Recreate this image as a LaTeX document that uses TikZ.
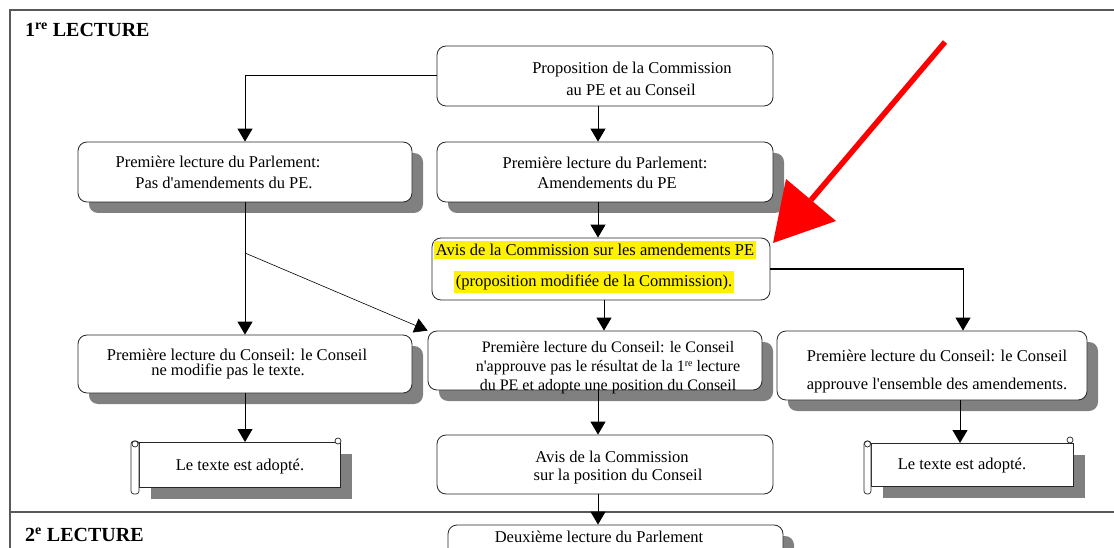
\documentclass[tikz,border=0pt]{standalone}
\usepackage{fontspec}
\setmainfont{Liberation Serif}
\usetikzlibrary{shadows,arrows.meta}
\begin{document}
\begin{tikzpicture}[x=1pt,y=-1pt,
  box/.style={draw=black!85, line width=0.8pt, rounded corners=9pt, fill=white, inner sep=0pt},
  shbox/.style={box, drop shadow={shadow xshift=11pt, shadow yshift=-11pt, fill=black!50, opacity=1}},
  scrollbody/.style={draw=black!85, line width=0.8pt, fill=white, inner sep=0pt,
     drop shadow={shadow xshift=12pt, shadow yshift=-12pt, fill=black!50, opacity=1}},
  roll/.style={draw=black!85, line width=0.7pt, fill=white, rounded corners=3pt},
  txt/.style={font=\fontsize{16.5}{19}\selectfont, inner sep=0pt, anchor=center},
  stxt/.style={font=\fontsize{16}{18}\selectfont, inner sep=0pt, anchor=base},
  hl/.style={txt, fill=yellow, inner xsep=1.5pt, inner ysep=3pt},
  title/.style={font=\fontsize{20}{23}\selectfont\bfseries, inner sep=0pt, anchor=west},
  arr/.style={-{Triangle[width=15pt,length=13pt]}, line width=1pt},
  thin/.style={-{Triangle[width=15pt,length=13pt]}, line width=0.6pt},
  frame/.style={draw=black!65, line width=1.6pt},
]
\useasboundingbox (0,0) rectangle (1114,548);
\fill[white] (0,0) rectangle (1114,548);

% frame
\draw[frame] (1114,10) -- (10,10) -- (10,548);
\draw[frame] (10,512) -- (1114,512);

\node[title] (t1) at (25,30) {1\textsuperscript{re} LECTURE};
\node[title] (t2) at (25,535) {2\textsuperscript{e} LECTURE};

% boxes
\node[box,   minimum width=336pt, minimum height=60pt] (p1) at (605,76) {};
\node[shbox, minimum width=334pt, minimum height=60pt] (b2) at (245,172) {};
\node[shbox, minimum width=336pt, minimum height=60pt] (b3) at (605,172) {};
\node[box,   minimum width=338pt, minimum height=62pt] (av) at (601,269) {};
\node[shbox, minimum width=334pt, minimum height=58pt] (c5) at (245,364) {};
\node[shbox, minimum width=334pt, minimum height=59pt] (c6) at (595,360.5) {};
\node[shbox, minimum width=310pt, minimum height=69pt] (c7) at (932,365.5) {};
\node[box,   minimum width=336pt, minimum height=59pt] (a2) at (605,464.5) {};
\node[shbox, minimum width=335pt, minimum height=50pt] (d2) at (615.5,550) {};

% scrolls
\node[scrollbody, minimum width=201pt, minimum height=45pt] (s1) at (239.5,464.5) {};
\draw[roll] (131,441) rectangle (139,494);
\draw[roll, rounded corners=0pt] (135,444) circle (3);
\draw[roll, rounded corners=0pt] (338,441) circle (3);
\node[scrollbody, minimum width=202pt, minimum height=43pt] (s2) at (972,464.5) {};
\draw[roll] (864,441) rectangle (871,494);
\draw[roll, rounded corners=0pt] (867.5,444) circle (3);
\draw[roll, rounded corners=0pt] (1070,440) circle (3);

% texts
\node[txt] (p1a) at (632,70) {Proposition de la Commission};
\node[txt] (p1b) at (631,90) {au PE et au Conseil};
\node[txt] (b2a) at (218,162) {Première lecture du Parlement:};
\node[txt] (b2b) at (224,183) {Pas d\textquotesingle amendements du PE.};
\node[txt] (b3a) at (605,163) {Première lecture du Parlement:};
\node[txt] (b3b) at (607,183) {Amendements du PE};
\node[hl]  (ava) at (595,250) {Avis de la Commission sur les amendements PE};
\node[hl]  (avb) at (594,282) {(proposition modifiée de la Commission).};
\node[txt] (c5a) at (237,355) {Première lecture du Conseil: le Conseil};
\node[txt] (c5b) at (228,371) {ne modifie pas le texte.};
\node[stxt] (c6a) at (608,352) {Première lecture du Conseil: le Conseil};
\node[stxt] (c6b) at (608,371) {n\textquotesingle approuve pas le résultat de la 1{\fontsize{10}{10}\selectfont\raisebox{4.5pt}{re}} lecture};
\node[stxt] (c6c) at (608,390) {du PE et adopte une position du Conseil};
\node[txt] (c7a) at (937,356) {Première lecture du Conseil: le Conseil};
\node[txt] (c7b) at (937,386) {approuve l\textquotesingle ensemble des amendements.};
\node[txt] (s1t) at (240,467) {Le texte est adopté.};
\node[txt] (s2t) at (962,466) {Le texte est adopté.};
\node[txt] (a2a) at (612,457) {Avis de la Commission};
\node[txt] (a2b) at (618,477) {sur la position du Conseil};
\node[txt] (d2a) at (599,537) {Deuxième lecture du Parlement};

% helper coordinates
\coordinate (xm) at (598,0);
\coordinate (xn) at (604,0);
\coordinate (xr) at (963,0);
\coordinate (xs) at (960,0);
\coordinate (dg) at (245,253);
\coordinate (s1top) at (245,442);
\coordinate (s2top) at (960,443);

% connectors
\draw[arr] (p1.west) -| (b2.north);
\draw[arr] (p1.south -| xm) -- (b3.north -| xm);
\draw[arr] (b3.south -| xm) -- (av.north -| xm);
\draw[arr] (av.south -| xn) -- (c6.north -| xn);
\draw[arr] (av.east) -| (c7.north -| xr);
\draw[arr] (b2.south) -- (c5.north);
\draw[thin] (dg) -- (c6.north west);
\draw[arr] (c5.south) -- (s1top);
\draw[arr] (c6.south -| xm) -- (a2.north -| xm);
\draw[arr] (c7.south -| xs) -- (s2top);
\draw[arr] (a2.south -| xm) -- (d2.north -| xm);

% red arrow
\coordinate (ra) at (945,42);
\coordinate (rb) at (811,200);
\coordinate (rt) at (773,243);
\coordinate (rc1) at (786,179);
\coordinate (rc2) at (836,221);
\draw[red, line width=5.5pt] (ra) -- (rb);
\fill[red] (rt) -- (rc1) -- (rc2) -- cycle;
\end{tikzpicture}
\end{document}
